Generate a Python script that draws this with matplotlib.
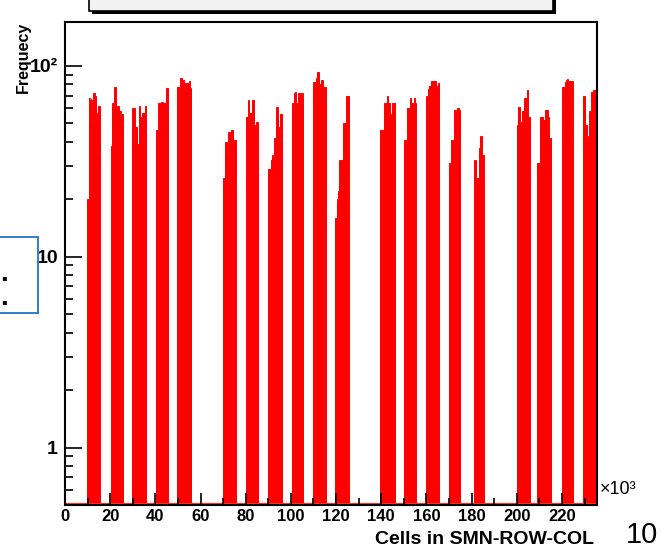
import numpy as np
import matplotlib
matplotlib.use("Agg")
import matplotlib.pyplot as plt
from matplotlib.patches import Rectangle
from matplotlib.ticker import FixedLocator, LogLocator, MultipleLocator, NullFormatter

plt.rcParams['font.family'] = ['Liberation Sans', 'DejaVu Sans']

# bin width in units of 10^3 cells
bin_width = 0.5

# start of each supermodule block (x10^3) and the counts in its bins
cluster_start = [9.6, 20.2, 29.8, 40.3, 49.7, 69.8, 80.1, 90.0, 100.3, 109.9,
                 119.5, 139.4, 150.0, 159.6, 170.0, 181.1, 199.9, 209.1, 219.8, 229.4]

c10 = [20, 20, 68, 67, 66, 50, 72, 70, 57, 57, 62, 62]
c20 = [38, 64, 64, 78, 78, 62, 62, 58, 58, 56, 56]
c30 = [60, 60, 48, 48, 39, 39, 62, 54, 54, 57, 57, 62]
c40 = [46, 46, 64, 64, 65, 65, 64, 64, 64, 77, 77]
c50 = [78, 78, 86, 86, 84, 84, 81, 81, 81, 81, 83, 77]
c70 = [26, 26, 40, 40, 35, 45, 45, 46, 46, 41, 41, 41]
c80 = [54, 54, 66, 57, 57, 66, 66, 49, 49, 51, 51]
c90 = [29, 29, 32, 34, 34, 42, 42, 61, 61, 48, 56, 56]
c100 = [64, 64, 72, 73, 64, 64, 72, 72, 65, 72]
c110 = [82, 82, 86, 93, 93, 80, 80, 84, 84, 78, 78]
c120 = [16, 16, 20, 22, 32, 32, 32, 50, 50, 50, 70, 70]
c140 = [46, 46, 46, 46, 64, 64, 70, 64, 64, 56, 56, 64, 64]
c150 = [41, 41, 40, 60, 60, 68, 64, 64, 61, 68, 64]
c160 = [70, 70, 76, 79, 79, 83, 83, 83, 83, 79, 79, 81]
c170 = [31, 31, 41, 41, 59, 59, 54, 60, 60, 59]
c180 = [32, 32, 26, 26, 37, 43, 43, 34, 34]
c200 = [49, 61, 61, 51, 51, 58, 58, 68, 68, 75, 54, 54]
c210 = [31, 31, 54, 54, 54, 52, 52, 59, 59, 54, 42, 42]
c220 = [78, 78, 78, 82, 84, 85, 83, 83, 83, 83]
c230 = [70, 70, 49, 43, 43, 58, 58, 73, 73, 75, 75, 300]

clusters = [c10, c20, c30, c40, c50, c70, c80, c90, c100, c110,
            c120, c140, c150, c160, c170, c180, c200, c210, c220, c230]

x_ticks = list(range(0, 221, 20))
y_ticks = [1, 10, 100]
y_tick_labels = ['1', '10', '10\u00b2']

x_lo, x_hi = 0, 235.5
y_lo, y_hi = 0.5, 170

W, H = 669, 554
fig = plt.figure(figsize=(W / 100, H / 100), dpi=100)
ax = fig.add_axes([65 / W, 49 / H, 532 / W, 483 / H])

for start, counts in zip(cluster_start, clusters):
    edges = start + bin_width * np.arange(len(counts) + 1)
    ax.stairs(counts, edges, baseline=y_lo, fill=True, facecolor='#ff0000',
              edgecolor='#ff0000', lw=0.7)

# histogram outline at the floor of the log axis
ax.axhline(y_lo, color='#ff3030', lw=3, zorder=1.5)

ax.set_yscale('log')
ax.set_xlim(x_lo, x_hi)
ax.set_ylim(y_lo, y_hi)

ax.yaxis.set_major_locator(FixedLocator(y_ticks))
ax.set_yticklabels(y_tick_labels)
ax.yaxis.set_minor_locator(LogLocator(base=10, subs=np.arange(2, 10)))
ax.yaxis.set_minor_formatter(NullFormatter())

ax.xaxis.set_major_locator(FixedLocator(x_ticks))
ax.set_xticklabels([str(v) for v in x_ticks])
ax.xaxis.set_minor_locator(MultipleLocator(10))

ax.tick_params(axis='y', which='major', direction='in', length=12, width=1.2,
               labelsize=14, pad=5)
ax.tick_params(axis='y', which='minor', direction='in', length=6, width=1.2)
ax.tick_params(axis='x', which='major', direction='in', length=9, width=1.2,
               labelsize=12, pad=3)
ax.tick_params(axis='x', which='minor', direction='in', length=5, width=1.2)
for lab in ax.get_xticklabels() + ax.get_yticklabels():
    lab.set_fontweight('bold')

for s in ax.spines.values():
    s.set_linewidth(1.5)
    s.set_zorder(3)

def fx(px):
    return px / W

def fy(py):
    return 1 - py / H

# axis titles, ROOT style
fig.text(fx(594), fy(540), 'Cells in SMN-ROW-COL', ha='right', va='center',
         fontsize=14, fontweight='bold')
fig.text(fx(23), fy(22), 'Frequecy', rotation=90, ha='center', va='top',
         fontsize=11.5, fontweight='bold')
fig.text(fx(600), fy(489), '\u00d710\u00b3', ha='left', va='center', fontsize=13)

# clipped stat box at the top
fig.patches.append(Rectangle((fx(92), fy(14)), fx(464), 0.1, transform=fig.transFigure,
                             facecolor='black', edgecolor='none'))
fig.patches.append(Rectangle((fx(89), fy(11)), fx(464), 0.1, transform=fig.transFigure,
                             facecolor='#f2f2f2', edgecolor='black', lw=1.2))

# slide leftovers around the picture
fig.patches.append(Rectangle((fx(-5), fy(313)), fx(43), fy(237) - fy(313),
                             transform=fig.transFigure, fill=False,
                             edgecolor='#2f7fc8', lw=1.4))
fig.text(fx(4), fy(281), '.', ha='center', va='baseline', fontsize=20,
         fontweight='bold')
fig.text(fx(4), fy(305), '.', ha='center', va='baseline', fontsize=20,
         fontweight='bold')
fig.text(fx(642), fy(535), '10', ha='center', va='center', fontsize=21)

fig.savefig('out.png', dpi=100)
